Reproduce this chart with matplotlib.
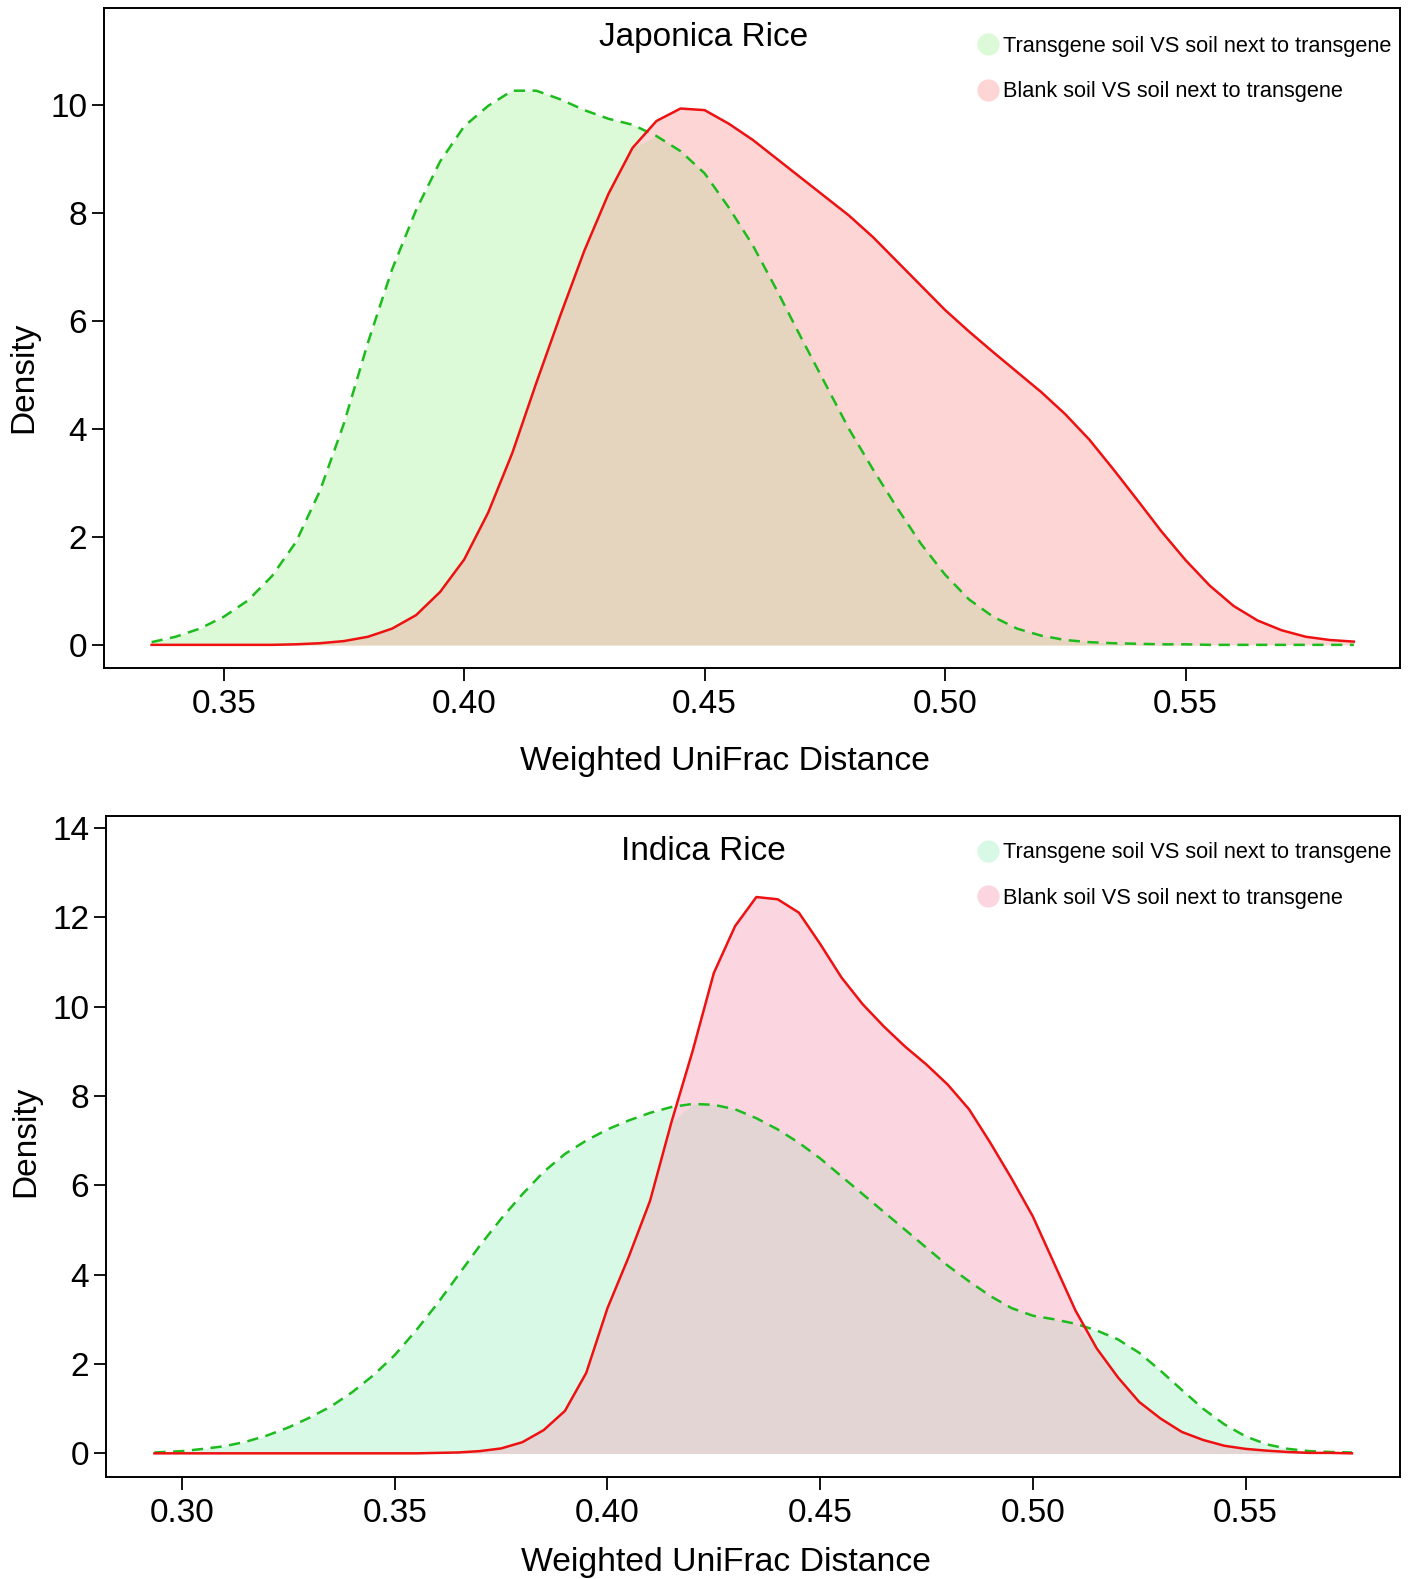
import matplotlib
matplotlib.use("Agg")
import matplotlib.pyplot as plt
from matplotlib.lines import Line2D
import numpy as np

plt.rcParams['font.family'] = ['Liberation Sans', 'DejaVu Sans']

# density curves
x_jap = [0.335, 0.340, 0.345, 0.350, 0.355, 0.360, 0.365, 0.370, 0.375, 0.380,
         0.385, 0.390, 0.395, 0.400, 0.405, 0.410, 0.415, 0.420, 0.425, 0.430,
         0.435, 0.440, 0.445, 0.450, 0.455, 0.460, 0.465, 0.470, 0.475, 0.480,
         0.485, 0.490, 0.495, 0.500, 0.505, 0.510, 0.515, 0.520, 0.525, 0.530,
         0.535, 0.540, 0.545, 0.550, 0.555, 0.560, 0.565, 0.570, 0.575, 0.580,
         0.585]
jap_transgene = [0.05, 0.15, 0.30, 0.52, 0.82, 1.27, 1.90, 2.85, 4.10, 5.60,
                 6.95, 8.05, 8.95, 9.60, 9.98, 10.26, 10.26, 10.10, 9.90, 9.74,
                 9.63, 9.42, 9.14, 8.73, 8.10, 7.40, 6.57, 5.70, 4.85, 4.00,
                 3.25, 2.54, 1.87, 1.30, 0.84, 0.52, 0.30, 0.17, 0.09, 0.05,
                 0.03, 0.02, 0.01, 0.01, 0.0, 0.0, 0.0, 0.0, 0.0, 0.0,
                 0.0]
jap_blank = [0.0, 0.0, 0.0, 0.0, 0.0, 0.0, 0.01, 0.03, 0.07, 0.15,
             0.30, 0.55, 0.98, 1.58, 2.45, 3.55, 4.85, 6.10, 7.30, 8.35,
             9.20, 9.70, 9.93, 9.90, 9.65, 9.35, 9.00, 8.65, 8.30, 7.95,
             7.55, 7.10, 6.65, 6.20, 5.80, 5.42, 5.05, 4.68, 4.27, 3.80,
             3.25, 2.68, 2.10, 1.57, 1.10, 0.72, 0.45, 0.27, 0.15, 0.09,
             0.06]

x_ind = [0.2935, 0.300, 0.305, 0.310, 0.315, 0.320, 0.325, 0.330, 0.335, 0.340,
         0.345, 0.350, 0.355, 0.360, 0.365, 0.370, 0.375, 0.380, 0.385, 0.390,
         0.395, 0.400, 0.405, 0.410, 0.415, 0.420, 0.425, 0.430, 0.435, 0.440,
         0.445, 0.450, 0.455, 0.460, 0.465, 0.470, 0.475, 0.480, 0.485, 0.490,
         0.495, 0.500, 0.505, 0.510, 0.515, 0.520, 0.525, 0.530, 0.535, 0.540,
         0.545, 0.550, 0.555, 0.560, 0.565, 0.570, 0.575]
ind_transgene = [0.02, 0.05, 0.10, 0.16, 0.26, 0.40, 0.58, 0.80, 1.05, 1.37,
                 1.75, 2.20, 2.75, 3.35, 4.00, 4.65, 5.25, 5.80, 6.30, 6.70,
                 7.00, 7.25, 7.45, 7.62, 7.75, 7.82, 7.80, 7.70, 7.50, 7.25,
                 6.95, 6.60, 6.20, 5.80, 5.40, 5.00, 4.60, 4.20, 3.85, 3.52,
                 3.25, 3.08, 3.00, 2.90, 2.75, 2.55, 2.25, 1.85, 1.42, 1.00,
                 0.65, 0.38, 0.20, 0.10, 0.05, 0.03, 0.02]
ind_blank = [0.0, 0.0, 0.0, 0.0, 0.0, 0.0, 0.0, 0.0, 0.0, 0.0,
             0.0, 0.0, 0.0, 0.01, 0.02, 0.05, 0.11, 0.25, 0.52, 0.95,
             1.80, 3.25, 4.40, 5.65, 7.40, 9.00, 10.75, 11.80, 12.45, 12.40,
             12.10, 11.40, 10.65, 10.05, 9.55, 9.10, 8.70, 8.25, 7.70, 6.95,
             6.15, 5.30, 4.25, 3.20, 2.35, 1.70, 1.15, 0.78, 0.48, 0.30,
             0.17, 0.10, 0.06, 0.03, 0.01, 0.01, 0.0]

labels = ["Transgene soil VS soil next to transgene",
          "Blank soil VS soil next to transgene"]

panels = [
    dict(title="Japonica Rice", x=x_jap, g=jap_transgene, r=jap_blank,
         rect=[0.0738, 0.5769, 0.9198, 0.4180],
         xlim=(0.3251, 0.5946), ylim=(-0.43, 11.79),
         xticks=[0.35, 0.40, 0.45, 0.50, 0.55], yticks=[0, 2, 4, 6, 8, 10],
         gfill="#dcfad7", rfill="#fdd5d5", ofill="#e5d5be",
         title_y=0.9765, ylab_y=0.441, leg_y=0.958, xlabpad=19),
    dict(title="Indica Rice", x=x_ind, g=ind_transgene, r=ind_blank,
         rect=[0.0752, 0.0643, 0.9184, 0.4191],
         xlim=(0.2821, 0.5863), ylim=(-0.54, 14.27),
         xticks=[0.30, 0.35, 0.40, 0.45, 0.50, 0.55], yticks=[0, 2, 4, 6, 8, 10, 12, 14],
         gfill="#d8f9e6", rfill="#fbd5e0", ofill="#e2d5d3",
         title_y=0.4605, ylab_y=0.508, leg_y=0.960, xlabpad=13),
]

fig = plt.figure(figsize=(14.09, 15.79), dpi=100)

for p in panels:
    ax = fig.add_axes(p["rect"])
    x = np.array(p["x"])
    g = np.array(p["g"])
    r = np.array(p["r"])
    ax.fill_between(x, 0, g, color=p["gfill"], lw=0)
    ax.fill_between(x, 0, r, color=p["rfill"], lw=0)
    ax.fill_between(x, 0, np.minimum(g, r), color=p["ofill"], lw=0)
    ax.plot(x, g, color="#1dbb1d", lw=1.8, ls=(0, (4.5, 3)))
    ax.plot(x, r, color="#ee1111", lw=1.8)

    ax.set_xlim(*p["xlim"])
    ax.set_ylim(*p["ylim"])
    ax.set_xticks(p["xticks"])
    ax.set_xticklabels(["%.2f" % v for v in p["xticks"]])
    ax.set_yticks(p["yticks"])
    ax.tick_params(labelsize=24, length=9, width=1.3, pad=6)
    ax.tick_params(axis="y", pad=3)
    for s in ax.spines.values():
        s.set_linewidth(1.4)

    ax.set_xlabel("Weighted UniFrac Distance", fontsize=24.3, labelpad=p["xlabpad"])
    # R put the x label slightly left of the panel centre
    ax.xaxis.label.set_x(0.479)
    ax.set_ylabel("Density", fontsize=24)
    ax.yaxis.set_label_coords(-0.050, p["ylab_y"])

    fig.text(0.4995, p["title_y"], p["title"], fontsize=24, ha="center", va="center")

    handles = [Line2D([], [], ls="", marker="o", ms=16, mfc=p["gfill"], mec="none"),
               Line2D([], [], ls="", marker="o", ms=16, mfc=p["rfill"], mec="none")]
    ax.legend(handles, labels, loc="upper left", bbox_to_anchor=(0.675, p["leg_y"]),
              frameon=False, fontsize=15.7, borderpad=0, borderaxespad=0,
              handlelength=0.8, handletextpad=0.3, labelspacing=1.12)

fig.savefig("out.png", dpi=100)
